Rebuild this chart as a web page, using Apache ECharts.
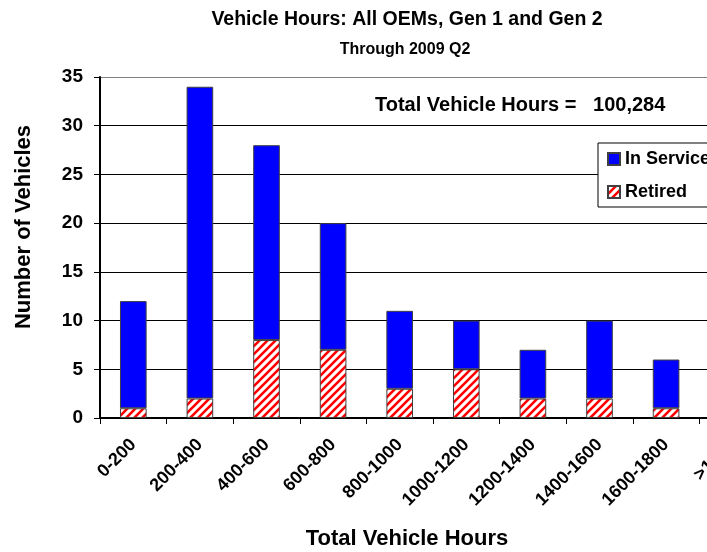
<!DOCTYPE html>
<html>
<head>
<meta charset="utf-8">
<script src="https://cdn.jsdelivr.net/npm/echarts@6/dist/echarts.min.js"></script>
<style>
	html, body { margin: 0; padding: 0; background: #fff; }
	#chart { width: 707px; height: 552px; }
</style>
</head>
<body>
<div id="chart"></div>
<script>
var categories = ['0-200', '200-400', '400-600', '600-800', '800-1000', '1000-1200', '1200-1400', '1400-1600', '1600-1800', '>1800'];
var retired = [1, 2, 8, 7, 3, 5, 2, 2, 1, 0];
var inService = [11, 32, 20, 13, 8, 5, 5, 8, 5, 0];
var yTicks = [0, 5, 10, 15, 20, 25, 30, 35];
var totalHours = '100,284';

// red/white diagonal hatch for retired vehicles
function makeHatch() {
	var c = document.createElement('canvas');
	c.width = 8;
	c.height = 8;
	var ctx = c.getContext('2d');
	ctx.fillStyle = '#fff';
	ctx.fillRect(0, 0, 8, 8);
	ctx.strokeStyle = '#ff0000';
	ctx.lineWidth = 2.6;
	ctx.beginPath();
	ctx.moveTo(-4, 4); ctx.lineTo(4, -4);
	ctx.moveTo(0, 8); ctx.lineTo(8, 0);
	ctx.moveTo(4, 12); ctx.lineTo(12, 4);
	ctx.stroke();
	return c;
}

var font = 'Liberation Sans, Arial, sans-serif';
var myChart = echarts.init(document.getElementById('chart'));

var option = {
	backgroundColor: '#fff',
	animation: false,
	legend: {
		orient: 'vertical',
		left: 598,
		top: 143,
		padding: [6, 30, 5, 9],
		itemGap: 13,
		itemWidth: 12,
		itemHeight: 12,
		backgroundColor: '#fff',
		borderColor: '#000',
		borderWidth: 1,
		borderRadius: 0,
		data: [
			{ name: 'In Service', icon: 'rect' },
			{ name: 'Retired', icon: 'rect' }
		],
		textStyle: { fontFamily: font, fontSize: 18, lineHeight: 20, fontWeight: 'bold', color: '#000' }
	},
	grid: {
		left: 100,
		top: 77,
		width: 666,
		height: 341,
		containLabel: false,
		outerBoundsMode: 'none'
	},
	xAxis: {
		type: 'category',
		data: categories,
		boundaryGap: true,
		axisLine: { lineStyle: { color: '#000', width: 2 } },
		axisTick: { show: true, length: 6, alignWithLabel: false, lineStyle: { color: '#000', width: 1 } },
		axisLabel: {
			interval: 0,
			rotate: 45,
			margin: 24,
			fontFamily: font,
			fontSize: 18,
			fontWeight: 'bold',
			color: '#000'
		}
	},
	yAxis: {
		type: 'value',
		min: yTicks[0],
		max: yTicks[yTicks.length - 1],
		interval: 5,
		axisLine: { show: true, lineStyle: { color: '#000', width: 2 } },
		axisTick: { show: true, length: 6, lineStyle: { color: '#000' } },
		axisLabel: { margin: 17, fontFamily: font, fontSize: 19, fontWeight: 'bold', color: '#000' },
		splitLine: {
			show: true,
			lineStyle: { color: ['#000', '#000', '#000', '#000', '#000', '#000', '#000', '#808080'], width: 1 }
		}
	},
	graphic: [{
		type: 'text',
		x: 407,
		y: 20,
		style: {
			text: 'Vehicle Hours: All OEMs, Gen 1 and Gen 2',
			font: 'bold 19.5px ' + font,
			fill: '#000',
			align: 'center',
			verticalAlign: 'middle'
		}
	}, {
		type: 'text',
		x: 405,
		y: 50,
		style: {
			text: 'Through 2009 Q2',
			font: 'bold 16px ' + font,
			fill: '#000',
			align: 'center',
			verticalAlign: 'middle'
		}
	}, {
		type: 'text',
		x: 375,
		y: 105,
		style: {
			text: 'Total Vehicle Hours =   ' + totalHours,
			font: 'bold 20px ' + font,
			fill: '#000',
			align: 'left',
			verticalAlign: 'middle'
		}
	}, {
		type: 'text',
		x: 407,
		y: 539,
		style: {
			text: 'Total Vehicle Hours',
			font: 'bold 22px ' + font,
			fill: '#000',
			align: 'center',
			verticalAlign: 'middle'
		}
	}, {
		type: 'text',
		x: 24,
		y: 227,
		rotation: Math.PI / 2,
		style: {
			text: 'Number of Vehicles',
			font: 'bold 22px ' + font,
			fill: '#000',
			align: 'center',
			verticalAlign: 'middle'
		}
	}],
	series: [{
		name: 'Retired',
		type: 'bar',
		stack: 'total',
		barWidth: '40%',
		data: retired,
		itemStyle: {
			color: { image: makeHatch(), repeat: 'repeat' },
			borderColor: '#404040',
			borderWidth: 1
		}
	}, {
		name: 'In Service',
		type: 'bar',
		stack: 'total',
		barWidth: '40%',
		data: inService,
		itemStyle: {
			color: '#0000ff',
			borderColor: '#404040',
			borderWidth: 1
		}
	}]
};
myChart.setOption(option);
</script>
</body>
</html>
